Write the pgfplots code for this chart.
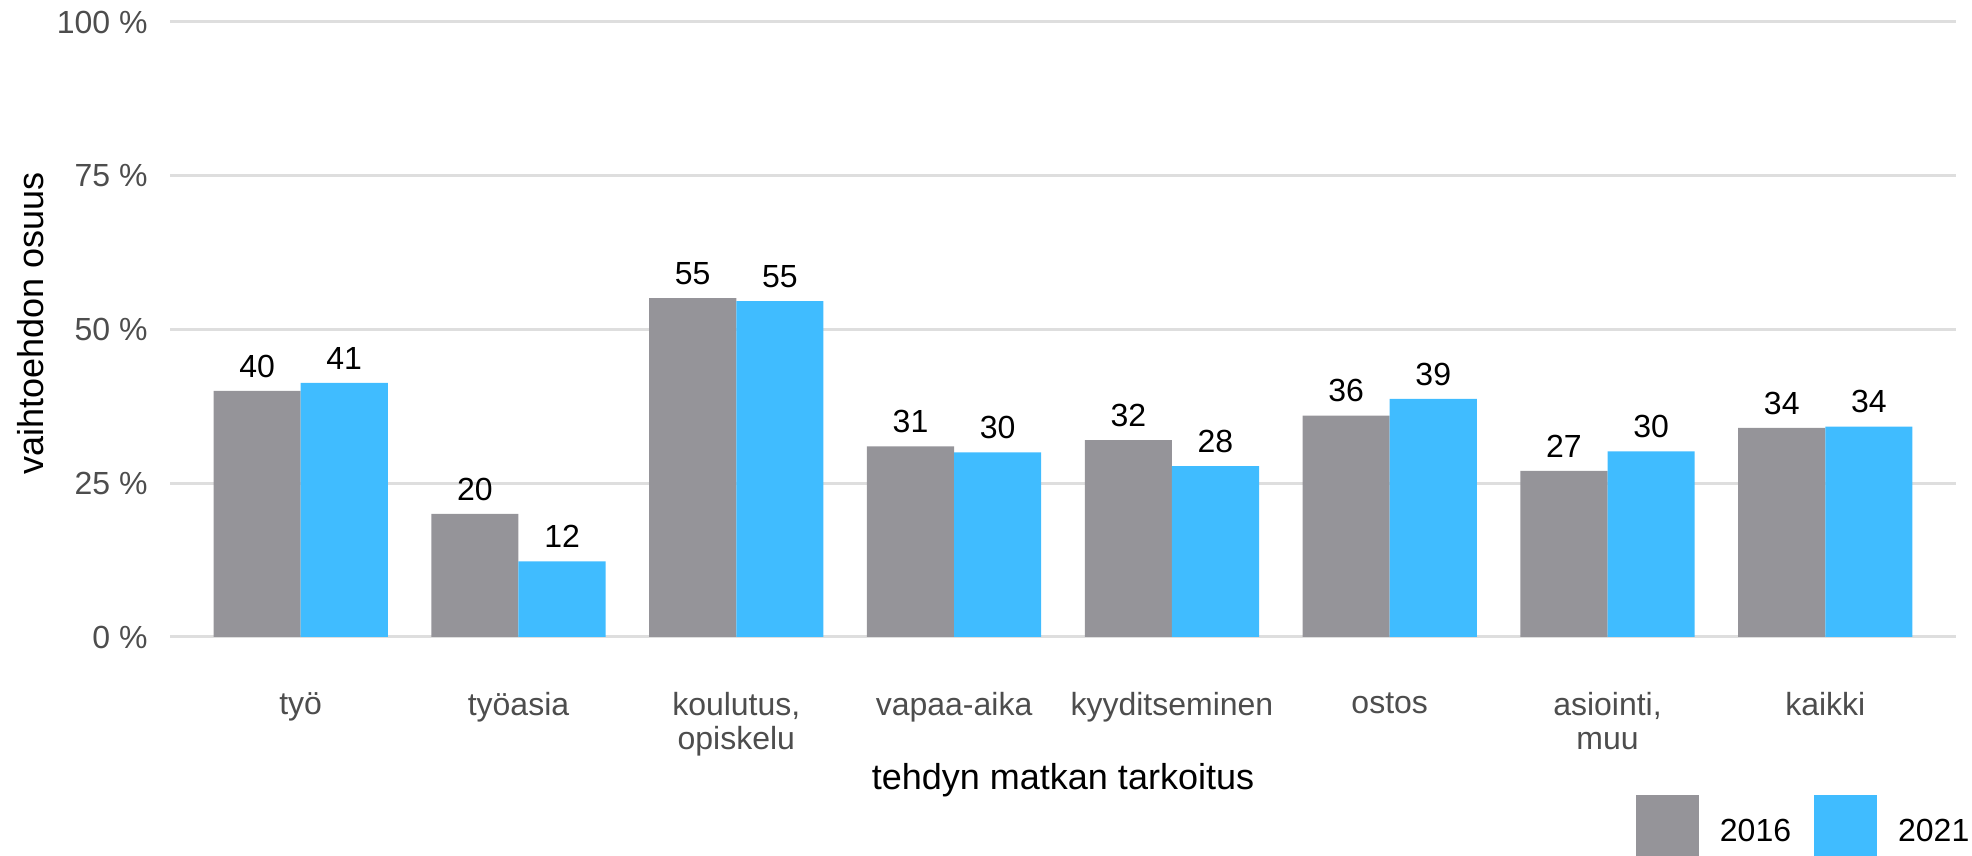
\documentclass[border=0pt]{standalone}
\usepackage{fontspec}
\setmainfont{Liberation Sans}
\usepackage{pgfplots}
\usepackage{pgfplotstable}
\pgfplotsset{compat=1.18}
\definecolor{cA}{RGB}{149,148,153}
\definecolor{cB}{RGB}{64,188,255}
\definecolor{gridc}{RGB}{222,222,222}
\definecolor{tickc}{RGB}{77,77,77}
\pgfplotstableread{
x y16 y21
1 40 41.3
2 20 12.3
3 55.1 54.6
4 31 30
5 32 27.8
6 36 38.7
7 27 30.2
8 34 34.2
}\data
\begin{document}
\begin{tikzpicture}
\useasboundingbox (0,0) rectangle (986pt,428pt);
\begin{axis}[
  at={(85pt,109.5pt)}, anchor=south west,
  scale only axis, width=893pt, height=307.5pt,
  xmin=0.4, xmax=8.6, ymin=0, ymax=100,
  axis line style={draw=none},
  major tick length=0pt, tick style={draw=none},
  ybar=0pt, bar width=0.4,
  ymajorgrids, grid style={gridc, line width=1.5pt},
  xtick={1,...,8},
  xticklabels={työ,työasia,{koulutus,\\opiskelu},vapaa-aika,kyyditseminen,ostos,{asiointi,\\muu},kaikki},
  ytick={0,25,50,75,100},
  yticklabels={0 \%,25 \%,50 \%,75 \%,100 \%},
  yticklabel style={font=\fontsize{16}{19}\selectfont, color=tickc, anchor=east, inner sep=0pt, xshift=-11pt},
  xticklabel style={font=\fontsize{16}{17}\selectfont, color=tickc, anchor=north, inner sep=0pt, align=center, yshift=-27.5pt},
  xlabel={tehdyn matkan tarkoitus},
  ylabel={vaihtoehdon osuus},
  xlabel style={font=\fontsize{18}{21}\selectfont, at={(axis description cs:0.5,-0.2325)}, anchor=center},
  ylabel style={font=\fontsize{18}{21}\selectfont, at={(axis description cs:-0.0778,0.51)}, anchor=center},
  point meta=y,
  nodes near coords={\pgfmathprintnumber[fixed,precision=0,assume math mode=true]{\pgfplotspointmeta}},
  every node near coord/.append style={font=\fontsize{16}{19}\selectfont, color=black, inner sep=0pt, anchor=south, yshift=6.5pt},
  legend columns=2,
  legend style={at={(0.8208,-0.3081)}, anchor=west, draw=none, fill=none, inner sep=0pt, outer sep=0pt,
    font=\fontsize{16}{19}\selectfont,
    nodes={inner xsep=10.5pt, inner ysep=0pt},
    /tikz/every even column/.append style={column sep=1pt}},
]
\addplot[fill=cA, draw=none, legend image code/.code={\fill[cA] (0pt,-13pt) rectangle (31.5pt,18.5pt);}] table[x=x,y=y16]{\data};
\addplot[fill=cB, draw=none, legend image code/.code={\fill[cB] (0pt,-13pt) rectangle (31.5pt,18.5pt);}] table[x=x,y=y21]{\data};
\legend{2016,2021}
\end{axis}
\end{tikzpicture}
\end{document}
